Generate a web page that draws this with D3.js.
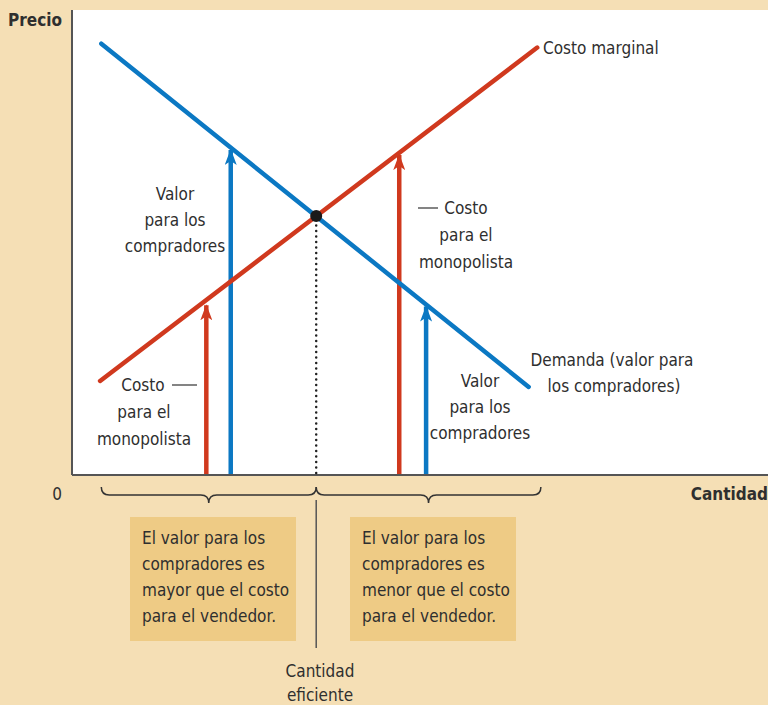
<!DOCTYPE html>
<html>
<head>
<meta charset="utf-8">
<script src="https://cdn.jsdelivr.net/npm/d3@7"></script>
<style>
  body { margin: 0; background: #f5dfb5; }
  svg { display: block; }
  text { font-family: "Liberation Sans Narrow", "DejaVu Sans Condensed", sans-serif; fill: #2f2f2f; }
</style>
</head>
<body>
<svg id="chart"></svg>
<script>
// quantity / price (efficient point = 10, 10)
const demandPoints = [[1.2, 16.65], [18.7, 3.4]];
const costPoints = [[1.15, 3.63], [19.05, 16.5]];
const efficientPoint = [10, 10];
const arrows = [
  { q: 5.5, top: 6.55, color: "red" },
  { q: 6.5, top: 12.55, color: "blue" },
  { q: 13.4, top: 12.35, color: "red" },
  { q: 14.5, top: 6.5, color: "blue" }
];
const braces = [[1.2, 10], [10, 19.2]];
const boxTexts = [
  ["El valor para los", "compradores es", "mayor que el costo", "para el vendedor."],
  ["El valor para los", "compradores es", "menor que el costo", "para el vendedor."]
];

const width = 768;
const height = 705;
const colors = { red: "#d0391e", blue: "#0b78c3" };

const svg = d3.select("#chart")
              .attr("width", width)
              .attr("height", height);

const x = d3.scaleLinear().domain([0, 28.5]).range([72, 768]);
const y = d3.scaleLinear().domain([0, 17.95]).range([475, 10]);

// plot area
svg.append("rect")
   .attr("x", x(0)).attr("y", y(17.95))
   .attr("width", width - x(0)).attr("height", y(0) - y(17.95))
   .attr("fill", "#fff");

svg.append("line")
   .attr("x1", x(0)).attr("x2", x(0)).attr("y1", y(17.95)).attr("y2", y(0))
   .attr("stroke", "#555").attr("stroke-width", 2);
svg.append("line")
   .attr("x1", x(0)).attr("x2", width).attr("y1", y(0)).attr("y2", y(0))
   .attr("stroke", "#555").attr("stroke-width", 2);

// arrowhead markers
Object.keys(colors).forEach(key => {
    svg.append("defs").append("marker")
       .attr("id", "head-" + key)
       .attr("viewBox", "0 0 16 12")
       .attr("refX", 15).attr("refY", 6)
       .attr("markerWidth", 16).attr("markerHeight", 12)
       .attr("markerUnits", "userSpaceOnUse")
       .attr("orient", "auto")
       .append("path")
       .attr("d", "M0,0 L16,6 L0,12 L4,6 Z")
       .attr("fill", colors[key]);
});

// dotted drop line
svg.append("line")
   .attr("x1", x(efficientPoint[0])).attr("x2", x(efficientPoint[0]))
   .attr("y1", y(efficientPoint[1]) + 4).attr("y2", y(0))
   .attr("stroke", "#222").attr("stroke-width", 2.5)
   .attr("stroke-linecap", "round")
   .attr("stroke-dasharray", "0,5.5");

// arrows
svg.selectAll(".arrow")
   .data(arrows)
   .enter()
   .append("line")
   .attr("class", "arrow")
   .attr("x1", d => x(d.q)).attr("x2", d => x(d.q))
   .attr("y1", y(0) - 1).attr("y2", d => y(d.top))
   .attr("stroke", d => colors[d.color])
   .attr("stroke-width", 4.5)
   .attr("marker-end", d => `url(#head-${d.color})`);

const line = d3.line().x(d => x(d[0])).y(d => y(d[1]));

svg.append("path")
   .attr("d", line(costPoints))
   .attr("stroke", colors.red).attr("stroke-width", 4.5)
   .attr("stroke-linecap", "round").attr("fill", "none");
svg.append("path")
   .attr("d", line(demandPoints))
   .attr("stroke", colors.blue).attr("stroke-width", 4.5)
   .attr("stroke-linecap", "round").attr("fill", "none");

svg.append("circle")
   .attr("cx", x(efficientPoint[0])).attr("cy", y(efficientPoint[1]))
   .attr("r", 6).attr("fill", "#1a1a1a");

// braces under the axis
const braceY = 495;
const bracePath = (a, b) => {
    const x0 = x(a), x1 = x(b), m = (x0 + x1) / 2;
    const r = 8;
    return `M${x0},${braceY - 8} Q${x0},${braceY} ${x0 + r},${braceY}`
         + ` L${m - r},${braceY} Q${m},${braceY} ${m},${braceY + 8}`
         + ` Q${m},${braceY} ${m + r},${braceY}`
         + ` L${x1 - r},${braceY} Q${x1},${braceY} ${x1},${braceY - 8}`;
};
svg.selectAll(".brace")
   .data(braces)
   .enter()
   .append("path")
   .attr("class", "brace")
   .attr("d", d => bracePath(d[0], d[1]))
   .attr("fill", "none").attr("stroke", "#333").attr("stroke-width", 1.5);

svg.append("line")
   .attr("x1", x(efficientPoint[0])).attr("x2", x(efficientPoint[0]))
   .attr("y1", 500).attr("y2", 648)
   .attr("stroke", "#555").attr("stroke-width", 1.5);

// boxes
const boxX = [130, 350];
boxTexts.forEach((lines, i) => {
    svg.append("rect")
       .attr("x", boxX[i]).attr("y", 517)
       .attr("width", 166).attr("height", 124)
       .attr("fill", "#eecb85");
    svg.append("g").selectAll("text")
       .data(lines)
       .enter()
       .append("text")
       .attr("x", boxX[i] + 12)
       .attr("y", (d, j) => 544 + j * 26)
       .attr("font-size", 17)
       .text(d => d);
});

// labels
const label = (txt, px, py, anchor, opts = {}) => svg.append("text")
   .attr("x", px).attr("y", py)
   .attr("text-anchor", anchor)
   .attr("font-size", opts.size || 17)
   .attr("font-weight", opts.bold ? "bold" : null)
   .text(txt);

label("Precio", 8, 26, "start", { bold: true, size: 17 });
label("Cantidad", 768, 500, "end", { bold: true, size: 17 });
label("0", 57, 500, "middle");
label("Costo marginal", 543, 54, "start");
label("Demanda (valor para", 612, 366, "middle");
label("los compradores)", 614, 392, "middle");

["Valor", "para los", "compradores"].forEach((t, i) => label(t, 175, 200 + i * 26, "middle"));
["Valor", "para los", "compradores"].forEach((t, i) => label(t, 480, 387 + i * 26, "middle"));
["Costo", "para el", "monopolista"].forEach((t, i) => label(t, 466, 214 + i * 27, "middle"));
["Costo", "para el", "monopolista"].forEach((t, i) => label(t, i === 0 ? 143 : 144, 391 + i * 27, "middle"));
["Cantidad", "eficiente"].forEach((t, i) => label(t, 320, 677 + i * 24, "middle"));

// leader dashes
svg.append("line").attr("x1", 418).attr("x2", 438).attr("y1", 208).attr("y2", 208)
   .attr("stroke", "#333").attr("stroke-width", 1.2);
svg.append("line").attr("x1", 172).attr("x2", 197).attr("y1", 385).attr("y2", 385)
   .attr("stroke", "#333").attr("stroke-width", 1.2);
</script>
</body>
</html>
